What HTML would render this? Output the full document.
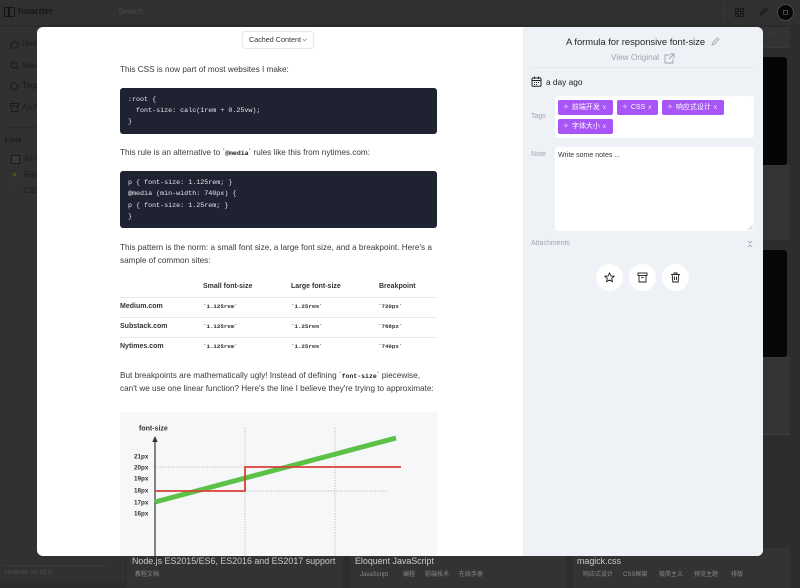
<!DOCTYPE html>
<html><head><meta charset="utf-8">
<style>
*{margin:0;padding:0;box-sizing:border-box}
html,body{width:800px;height:581px;overflow:hidden;background:#2d2d2d;font-family:"Liberation Sans","Noto Sans CJK SC",sans-serif}
.a{position:absolute}
.t{position:absolute;white-space:nowrap;line-height:12px;height:12px}
.mono{font-family:"Liberation Mono","DejaVu Sans Mono",monospace}
.p{font-size:8.2px;color:#3a3a3a}
.code{position:absolute;left:120px;width:317px;background:#1f2331;border-radius:3px}
.cl{position:absolute;left:128px;white-space:pre;font-family:"Liberation Mono",monospace;font-size:6.7px;color:#e6e8ee;line-height:10px;height:10px}
.th{font-size:7px;font-weight:bold;color:#333}
.td{font-size:5.8px;font-weight:bold;color:#333}
.hl{position:absolute;left:120px;width:317px;height:1px;background:#e9e9ec}
.chip{position:absolute;height:15px;background:#a855f7;border-radius:2px;color:#fff;font-size:7px;line-height:15px;white-space:nowrap;padding-left:5px}
.chip b{font-weight:normal;font-size:6px;margin-left:3px;opacity:.9}
.chip i{font-style:normal;font-size:7px;margin-right:3px;font-family:"DejaVu Sans",sans-serif}
.circ{position:absolute;width:27px;height:27px;border-radius:50%;background:#fff}
.bt{font-size:8.9px;color:#c9c9c9}
.tg{font-size:6px;color:#8a8a8a}
.sb{font-size:8px;color:#1b1b1b}
</style></head><body>

<!-- top bar -->
<div class="a" style="left:0;top:0;width:800px;height:26px;background:#303030;border-bottom:1px solid #292929"></div>
<div class="a" style="left:4px;top:7px;width:11px;height:10px;border:1.5px solid #141414;border-radius:1px"></div>
<div class="a" style="left:8px;top:7px;width:1.5px;height:10px;background:#141414"></div>
<div class="t" style="left:18px;top:6px;font-size:9.5px;font-weight:bold;color:#171717">hoarder</div>
<div class="t" style="left:118px;top:6px;font-size:8px;color:#4a4a4a">Search</div>
<div class="a" style="left:723px;top:4px;width:1px;height:18px;background:#3a3a3a"></div>
<svg class="a" style="left:735px;top:8px" width="9" height="9" viewBox="0 0 9 9"><g fill="none" stroke="#161616" stroke-width="1"><rect x="0.5" y="0.5" width="3" height="3"/><rect x="5.5" y="0.5" width="3" height="3"/><rect x="0.5" y="5.5" width="3" height="3"/><rect x="5.5" y="5.5" width="3" height="3"/></g></svg>
<svg class="a" style="left:759px;top:7px" width="9" height="9" viewBox="0 0 9 9"><path d="M1 8 L1.5 6 L6.5 1 L8 2.5 L3 7.5 Z" fill="none" stroke="#161616" stroke-width="1"/></svg>
<div class="a" style="left:777px;top:4px;width:17px;height:17px;border-radius:50%;background:#080808;border:1px solid #474747"></div>
<div class="a" style="left:783px;top:10px;width:5px;height:5px;border:1px solid #444"></div>

<!-- sidebar -->
<div class="a" style="left:0;top:27px;width:125px;height:554px;background:#313131"></div>
<svg class="a" style="left:10px;top:40px" width="9" height="9" viewBox="0 0 9 9"><path d="M1 4 L4.5 1 L8 4 V8 H1 Z" fill="none" stroke="#1b1b1b"/></svg>
<div class="t sb" style="left:22px;top:38px">Home</div>
<svg class="a" style="left:10px;top:61px" width="9" height="9" viewBox="0 0 9 9"><circle cx="4" cy="4" r="3" fill="none" stroke="#1b1b1b"/><line x1="6" y1="6" x2="8.5" y2="8.5" stroke="#1b1b1b"/></svg>
<div class="t sb" style="left:22px;top:60px">Search</div>
<svg class="a" style="left:10px;top:82px" width="9" height="9" viewBox="0 0 9 9"><path d="M1 1 H5 L8.5 4.5 L4.5 8.5 L1 5 Z" fill="none" stroke="#1b1b1b"/></svg>
<div class="t sb" style="left:22px;top:80px">Tags</div>
<svg class="a" style="left:10px;top:103px" width="9" height="9" viewBox="0 0 9 9"><rect x="0.5" y="0.5" width="8" height="2.5" fill="none" stroke="#1b1b1b"/><rect x="1.5" y="3" width="6" height="5.5" fill="none" stroke="#1b1b1b"/></svg>
<div class="t sb" style="left:22px;top:102px">Archive</div>
<div class="a" style="left:4px;top:127px;width:110px;height:1px;background:#2a2a2a"></div>
<div class="t" style="left:5px;top:135px;font-size:7px;font-weight:bold;color:#1b1b1b">Lists</div>
<div class="a" style="left:11px;top:155px;width:9px;height:9px;border:1px solid #1b1b1b;background:#3a3a3a"></div>
<div class="t sb" style="left:24px;top:153px">All Lists</div>
<div class="t" style="left:11px;top:169px;font-size:8px;color:#5a4c1c;font-family:'DejaVu Sans',sans-serif">★</div>
<div class="t sb" style="left:24px;top:169px">Favourites</div>
<div class="t" style="left:11px;top:185px;font-size:8px;color:#4b2a2a;font-family:'DejaVu Sans',sans-serif">➶</div>
<div class="t sb" style="left:24px;top:185px">CSS</div>
<div class="a" style="left:3px;top:565px;width:102px;height:1px;background:#3a3a3a"></div>
<div class="t" style="left:5px;top:567px;font-size:6.5px;color:#505050">Hoarder v0.18.0</div>

<!-- bottom cards -->
<div class="a" style="left:127px;top:548px;width:216px;height:40px;background:#333"></div>
<div class="a" style="left:350px;top:548px;width:216px;height:40px;background:#333"></div>
<div class="a" style="left:573px;top:548px;width:217px;height:40px;background:#333"></div>
<div class="t bt" style="left:132px;top:555px">Node.js ES2015/ES6, ES2016 and ES2017 support</div>
<div class="t tg" style="left:135px;top:569px">教程文档</div>
<div class="t bt" style="left:355px;top:555px">Eloquent JavaScript</div>
<div class="t tg" style="left:360px;top:569px">JavaScript</div>
<div class="t tg" style="left:403px;top:569px">编程</div>
<div class="t tg" style="left:425px;top:569px">前端技术</div>
<div class="t tg" style="left:459px;top:569px">在线手册</div>
<div class="t bt" style="left:577px;top:555px">magick.css</div>
<div class="t tg" style="left:583px;top:569px">响应式设计</div>
<div class="t tg" style="left:623px;top:569px">CSS框架</div>
<div class="t tg" style="left:659px;top:569px">极简主义</div>
<div class="t tg" style="left:694px;top:569px">预览主题</div>
<div class="t tg" style="left:731px;top:569px">排版</div>

<!-- right background cards -->
<div class="a" style="left:755px;top:27px;width:35px;height:20px;background:#333"></div>
<div class="t" style="left:769px;top:28px;font-size:7px;color:#555">···</div>
<div class="a" style="left:755px;top:47px;width:35px;height:1px;background:#3a3a3a"></div>
<div class="a" style="left:755px;top:57px;width:32px;height:108px;background:#050505;border-radius:3px"></div>
<div class="a" style="left:755px;top:165px;width:35px;height:75px;background:#343434"></div>
<div class="t" style="left:769px;top:221px;font-size:7px;color:#555">···</div>
<div class="a" style="left:755px;top:250px;width:32px;height:107px;background:#070707;border-radius:3px"></div>
<div class="a" style="left:755px;top:357px;width:35px;height:77px;background:#343434"></div>
<div class="t" style="left:769px;top:413px;font-size:7px;color:#555">···</div>
<div class="a" style="left:755px;top:434px;width:35px;height:1px;background:#3d3d3d"></div>

<!-- modal -->
<div class="a" style="left:37px;top:27px;width:726px;height:529px;background:#fff;border-radius:6px;overflow:hidden">
  <div class="a" style="left:486px;top:0;width:240px;height:529px;background:#eef1f6"></div>
</div>

<!-- left content -->
<div class="a" style="left:242px;top:31px;width:72px;height:18px;border:1px solid #e6e7ea;border-radius:4px;background:#fff"></div>
<div class="t" style="left:249px;top:34px;font-size:7.2px;color:#333">Cached Content</div>
<svg class="a" style="left:302px;top:38px" width="5" height="4" viewBox="0 0 5 4"><path d="M0.5 0.8 L2.5 2.8 L4.5 0.8" fill="none" stroke="#999" stroke-width="0.8"/></svg>

<div class="t p" style="left:120px;top:64px">This CSS is now part of most websites I make:</div>
<div class="code" style="top:88px;height:46px"></div>
<div class="cl" style="top:95px">:root {</div>
<div class="cl" style="top:106px">  font-size: calc(1rem + 0.25vw);</div>
<div class="cl" style="top:117px">}</div>

<div class="t p" style="left:120px;top:147px">This rule is an alternative to `<b class="mono" style="font-size:6.5px;color:#222">@media</b>` rules like this from nytimes.com:</div>
<div class="code" style="top:171px;height:57px"></div>
<div class="cl" style="top:178px">p { font-size: 1.125rem; }</div>
<div class="cl" style="top:189px">@media (min-width: 740px) {</div>
<div class="cl" style="top:201px">p { font-size: 1.25rem; }</div>
<div class="cl" style="top:212px">}</div>

<div class="t p" style="left:120px;top:242px">This pattern is the norm: a small font size, a large font size, and a breakpoint. Here's a</div>
<div class="t p" style="left:120px;top:255px">sample of common sites:</div>

<div class="t th" style="left:203px;top:281px">Small font-size</div>
<div class="t th" style="left:291px;top:281px">Large font-size</div>
<div class="t th" style="left:379px;top:281px">Breakpoint</div>
<div class="hl" style="top:297px"></div>
<div class="hl" style="top:317px"></div>
<div class="hl" style="top:337px"></div>
<div class="t th" style="left:120px;top:301px">Medium.com</div>
<div class="t td mono" style="left:203px;top:301px">`1.125rem`</div>
<div class="t td mono" style="left:291px;top:301px">`1.25rem`</div>
<div class="t td mono" style="left:378px;top:301px">`720px`</div>
<div class="t th" style="left:120px;top:321px">Substack.com</div>
<div class="t td mono" style="left:203px;top:321px">`1.125rem`</div>
<div class="t td mono" style="left:291px;top:321px">`1.25rem`</div>
<div class="t td mono" style="left:378px;top:321px">`768px`</div>
<div class="t th" style="left:120px;top:341px">Nytimes.com</div>
<div class="t td mono" style="left:203px;top:341px">`1.125rem`</div>
<div class="t td mono" style="left:291px;top:341px">`1.25rem`</div>
<div class="t td mono" style="left:378px;top:341px">`740px`</div>

<div class="t p" style="left:120px;top:370px">But breakpoints are mathematically ugly! Instead of defining `<b class="mono" style="font-size:6.5px;color:#222">font-size</b>` piecewise,</div>
<div class="t p" style="left:120px;top:383px">can't we use one linear function? Here's the line I believe they're trying to approximate:</div>

<svg class="a" style="left:120px;top:412px" width="317" height="144" viewBox="0 0 317 144">
<rect width="317" height="144" fill="#f6f7f9"/>
<text x="19" y="18.5" font-size="7" font-weight="bold" fill="#333" font-family="Liberation Sans,sans-serif">font-size</text>
<g stroke="#a0a0a0" stroke-width="0.8" stroke-dasharray="1 1.6" fill="none">
<line x1="125" y1="16" x2="125" y2="144"/>
<line x1="215" y1="16" x2="215" y2="144"/>
<line x1="35" y1="55" x2="125" y2="55"/>
<line x1="125" y1="79" x2="268" y2="79"/>
</g>
<g font-size="6.3" font-weight="bold" fill="#333" font-family="Liberation Sans,sans-serif">
<text x="14" y="46.5">21px</text>
<text x="14" y="57.5">20px</text>
<text x="14" y="68.5">19px</text>
<text x="14" y="80.5">18px</text>
<text x="14" y="92.5">17px</text>
<text x="14" y="103.5">16px</text>
</g>
<line x1="35" y1="28" x2="35" y2="144" stroke="#333" stroke-width="1.2"/>
<path d="M35 24 L32.3 30 L37.7 30 Z" fill="#333"/>
<line x1="35" y1="90" x2="276" y2="26" stroke="#5bc247" stroke-width="5"/>
<polyline points="35,79 125,79 125,55 281,55" fill="none" stroke="#d9403a" stroke-width="1.8"/>
</svg>

<!-- right panel -->
<div class="t" style="left:566px;top:36px;font-size:9.4px;color:#1f2328">A formula for responsive font-size</div>
<svg class="a" style="left:711px;top:37px" width="9" height="9" viewBox="0 0 9 9"><path d="M1 8 L1.5 6 L6.5 1 L8 2.5 L3 7.5 Z" fill="none" stroke="#9aa0a8" stroke-width="0.8"/></svg>
<div class="t" style="left:611px;top:52px;font-size:8.2px;color:#9ca3af">View Original</div>
<svg class="a" style="left:664px;top:53px" width="11" height="11" viewBox="0 0 11 11"><g fill="none" stroke="#9ca3af" stroke-width="0.9"><path d="M5 2 H1 V10 H9 V6"/><path d="M6 1 H10 V5 M10 1 L5 6"/></g></svg>
<div class="a" style="left:530px;top:67px;width:225px;height:1px;background:#e3e7ee"></div>
<svg class="a" style="left:531px;top:76px" width="11" height="11" viewBox="0 0 11 11"><g fill="none" stroke="#222" stroke-width="1"><rect x="1" y="2" width="9" height="8.3" rx="1"/><line x1="1" y1="4.5" x2="10" y2="4.5"/><line x1="3.5" y1="0.5" x2="3.5" y2="3"/><line x1="7.5" y1="0.5" x2="7.5" y2="3"/></g><g fill="#222"><rect x="3" y="6" width="1" height="1"/><rect x="5" y="6" width="1" height="1"/><rect x="7" y="6" width="1" height="1"/><rect x="3" y="8" width="1" height="1"/><rect x="5" y="8" width="1" height="1"/></g></svg>
<div class="t" style="left:546px;top:76px;font-size:8.3px;color:#1b1b1b">a day ago</div>

<div class="t" style="left:531px;top:111px;font-size:7px;color:#a0a6b0">Tags</div>
<div class="a" style="left:555px;top:96px;width:199px;height:42px;background:#fff;border-radius:3px"></div>
<div class="chip" style="left:558px;top:100px;width:55px"><i>✧</i>前端开发<b>x</b></div>
<div class="chip" style="left:617px;top:100px;width:41px"><i>✧</i>CSS<b>x</b></div>
<div class="chip" style="left:662px;top:100px;width:62px"><i>✧</i>响应式设计<b>x</b></div>
<div class="chip" style="left:558px;top:119px;width:55px"><i>✧</i>字体大小<b>x</b></div>

<div class="t" style="left:531px;top:149px;font-size:7px;color:#a0a6b0">Note</div>
<div class="a" style="left:555px;top:147px;width:199px;height:84px;background:#fff;border-radius:3px"></div>
<div class="t" style="left:558px;top:150px;font-size:7px;color:#3a3a3a">Write some notes ...</div>
<svg class="a" style="left:748px;top:225px" width="5" height="5" viewBox="0 0 5 5"><g stroke="#bbb" stroke-width="0.6"><line x1="0" y1="5" x2="5" y2="0"/><line x1="2.5" y1="5" x2="5" y2="2.5"/></g></svg>

<div class="t" style="left:531px;top:238px;font-size:7px;color:#a0a6b0">Attachments</div>
<svg class="a" style="left:747px;top:240px" width="6" height="8" viewBox="0 0 6 8"><g fill="none" stroke="#a0a6b0" stroke-width="0.8"><path d="M1 1 L3 3 L5 1"/><path d="M1 7 L3 5 L5 7"/></g></svg>

<div class="circ" style="left:596px;top:264px"></div>
<div class="circ" style="left:629px;top:264px"></div>
<div class="circ" style="left:662px;top:264px"></div>
<svg class="a" style="left:604px;top:272px" width="11" height="11" viewBox="0 0 11 11"><path d="M5.5 0.8 L6.9 4 L10.3 4.2 L7.7 6.4 L8.5 9.8 L5.5 8 L2.5 9.8 L3.3 6.4 L0.7 4.2 L4.1 4 Z" fill="none" stroke="#1b1b1b" stroke-width="0.9" stroke-linejoin="round"/></svg>
<svg class="a" style="left:637px;top:272px" width="11" height="11" viewBox="0 0 11 11"><g fill="none" stroke="#1b1b1b" stroke-width="0.9"><rect x="1" y="1" width="9" height="2.5"/><path d="M2 3.5 V10 H9 V3.5"/><line x1="4.3" y1="5.5" x2="6.7" y2="5.5"/></g></svg>
<svg class="a" style="left:670px;top:272px" width="11" height="11" viewBox="0 0 11 11"><g fill="none" stroke="#1b1b1b" stroke-width="0.9"><line x1="1" y1="2.5" x2="10" y2="2.5"/><path d="M4 2.5 V1 H7 V2.5"/><path d="M2.2 2.5 L2.8 10 H8.2 L8.8 2.5"/><line x1="4.5" y1="4.5" x2="4.5" y2="8"/><line x1="6.5" y1="4.5" x2="6.5" y2="8"/></g></svg>

</body></html>
